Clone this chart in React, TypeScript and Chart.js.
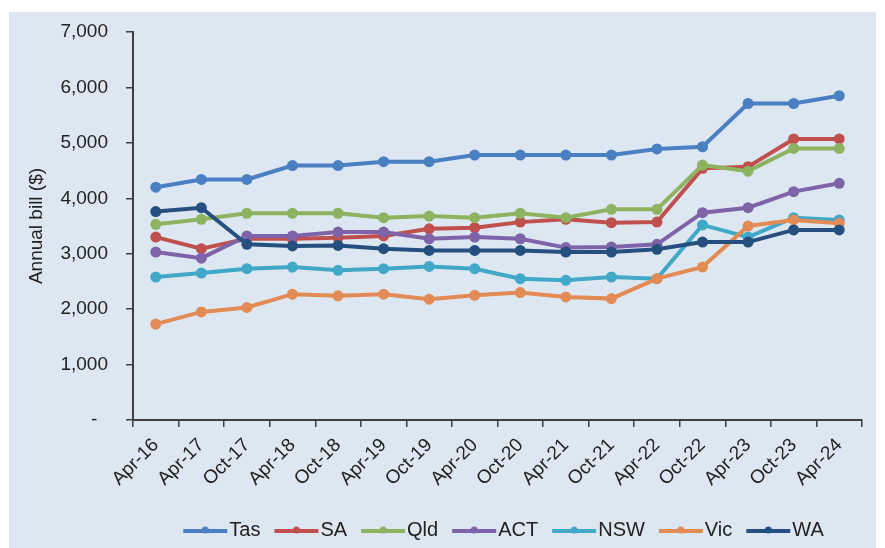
import React, { useEffect, useRef } from 'react';
import { Chart, registerables } from 'chart.js';

Chart.register(...registerables);

const categories = ['Apr-16', 'Apr-17', 'Oct-17', 'Apr-18', 'Oct-18', 'Apr-19', 'Oct-19', 'Apr-20', 'Oct-20', 'Apr-21', 'Oct-21', 'Apr-22', 'Oct-22', 'Apr-23', 'Oct-23', 'Apr-24'];

const tas = [4200, 4340, 4340, 4590, 4590, 4660, 4660, 4780, 4780, 4780, 4780, 4890, 4930, 5710, 5710, 5850];
const sa = [3300, 3090, 3270, 3270, 3290, 3320, 3450, 3470, 3570, 3620, 3560, 3570, 4540, 4570, 5070, 5070];
const qld = [3530, 3620, 3730, 3730, 3730, 3650, 3680, 3650, 3730, 3650, 3800, 3800, 4600, 4490, 4900, 4900];
const act = [3030, 2920, 3320, 3320, 3390, 3390, 3270, 3300, 3270, 3110, 3120, 3170, 3740, 3830, 4120, 4270];
const nsw = [2580, 2650, 2730, 2760, 2700, 2730, 2770, 2730, 2550, 2520, 2580, 2550, 3520, 3300, 3650, 3610];
const vic = [1730, 1950, 2030, 2270, 2240, 2270, 2180, 2250, 2300, 2220, 2190, 2550, 2760, 3500, 3610, 3550];
const wa = [3760, 3830, 3170, 3140, 3150, 3090, 3060, 3060, 3060, 3030, 3030, 3080, 3210, 3210, 3430, 3430];

const seriesNames = ['Tas', 'SA', 'Qld', 'ACT', 'NSW', 'Vic', 'WA'];
const seriesColors = ['#4a7fc1', '#c0504d', '#8db360', '#7f63a8', '#41a8c8', '#e38b55', '#254f7e'];

const yMin = 0;
const yMax = 7000;
const yStep = 1000;
const yTitle = 'Annual bill ($)';

const FONT = '"Liberation Sans", Arial, sans-serif';
const TEXT = '#222222';
const AXIS = '#404040';

const legendShift = {
  id: 'legendShift',
  afterLayout(chart: any) {
    const l = chart.legend;
    if (l) {
      l.left += 72;
      l.right += 72;
    }
  },
};

export default function App() {
  const ref = useRef<HTMLCanvasElement>(null);

  useEffect(() => {
    document.body.style.margin = '0';
    const series = [tas, sa, qld, act, nsw, vic, wa];
    const makeIcon = (color: string) => {
      const c = document.createElement('canvas');
      c.width = 46;
      c.height = 12;
      const g = c.getContext('2d')!;
      g.strokeStyle = color;
      g.lineWidth = 4;
      g.beginPath();
      g.moveTo(1, 7);
      g.lineTo(45, 7);
      g.stroke();
      g.fillStyle = color;
      g.beginPath();
      g.arc(23, 6, 3.5, 0, Math.PI * 2);
      g.fill();
      return c;
    };
    const icons = seriesColors.map(makeIcon);

    const chart = new Chart(ref.current!, {
      type: 'line',
      data: {
        labels: categories,
        datasets: series.map((d, i) => ({
          label: seriesNames[i],
          data: d,
          borderColor: seriesColors[i],
          backgroundColor: seriesColors[i],
          pointBackgroundColor: seriesColors[i],
          pointBorderColor: seriesColors[i],
          borderWidth: 4,
          pointRadius: 5.5,
          pointBorderWidth: 0,
          tension: 0,
          fill: false,
          order: 7 - i,
        })),
      },
      options: {
        animation: false,
        responsive: false,
        maintainAspectRatio: false,
        layout: { padding: { left: 0, right: 14, top: 20, bottom: 2 } },
        plugins: {
          tooltip: { enabled: false },
          legend: {
            position: 'bottom',
            labels: {
              usePointStyle: true,
              pointStyleWidth: 28,
              padding: 22,
              color: TEXT,
              font: { family: FONT, size: 20 },
              generateLabels: () =>
                seriesNames.map((n, i) => ({
                  text: n,
                  fillStyle: seriesColors[i],
                  strokeStyle: seriesColors[i],
                  lineWidth: 0,
                  pointStyle: icons[i] as any,
                  datasetIndex: i,
                  hidden: false,
                  fontColor: TEXT,
                })),
            },
          },
        },
        scales: {
          x: {
            offset: true,
            grid: { display: true, drawOnChartArea: false, offset: true, tickLength: 7, color: AXIS, lineWidth: 1.5 },
            border: { color: AXIS, width: 2 },
            ticks: { maxRotation: 45, minRotation: 45, autoSkip: false, color: TEXT, font: { family: FONT, size: 19 }, padding: 7 },
            afterFit: (s: any) => { s.height = 78; },
          },
          y: {
            min: yMin,
            max: yMax,
            ticks: {
              stepSize: yStep,
              color: TEXT,
              font: { family: FONT, size: 19 },
              padding: 18,
              callback: (v: any) => (Number(v) === 0 ? '-  ' : Number(v).toLocaleString('en-US')),
            },
            grid: { display: true, drawOnChartArea: false, tickLength: 7, color: AXIS, lineWidth: 1.5 },
            border: { color: AXIS, width: 2 },
            title: { display: true, text: yTitle, color: TEXT, font: { family: FONT, size: 19 }, padding: { top: 16, bottom: 0 } },
            afterFit: (s: any) => { s.width = 124; s.paddingTop = 0; s.paddingBottom = 0; },
          },
        },
      },
      plugins: [legendShift],
    });
    return () => chart.destroy();
  }, []);

  return (
    <div style={{ width: 885, height: 548, background: '#ffffff', position: 'relative', overflow: 'hidden' }}>
      <div style={{ position: 'absolute', left: 9, top: 12, width: 867, height: 536, background: '#dde7f1', overflow: 'hidden' }}>
        <canvas ref={ref} width={867} height={540} style={{ display: 'block', width: 867, height: 540 }} />
      </div>
    </div>
  );
}
